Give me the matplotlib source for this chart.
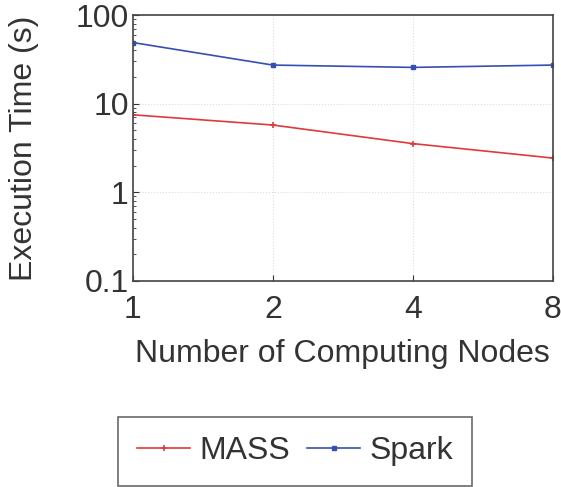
import matplotlib
matplotlib.use("Agg")
import matplotlib.pyplot as plt
from matplotlib.ticker import NullFormatter

plt.rcParams["font.family"] = ["Liberation Sans", "DejaVu Sans"]

nodes = [1, 2, 4, 8]
mass_time = [7.5, 5.75, 3.55, 2.44]
spark_time = [49, 27.3, 25.7, 27.3]
y_ticks = [0.1, 1, 10, 100]
y_tick_labels = ["0.1", "1", "10", "100"]

fs = 23

fig = plt.figure(figsize=(5.61, 4.87), dpi=100)
ax = fig.add_axes([0.237, 0.423, 0.748, 0.546])

ax.plot(nodes, mass_time, color="#e0393a", lw=1.2, marker="+", ms=4, mew=1.2, label="MASS")
ax.plot(nodes, spark_time, color="#3550b0", lw=1.2, marker="s", ms=3, label="Spark")

ax.set_xscale("log", base=2)
ax.set_yscale("log")
ax.set_xlim(1, 8)
ax.set_ylim(0.1, 100)
ax.set_xticks(nodes)
ax.set_xticklabels([str(n) for n in nodes])
ax.xaxis.set_minor_formatter(NullFormatter())
ax.set_yticks(y_ticks)
ax.set_yticklabels(y_tick_labels)

ax.tick_params(axis="both", which="both", direction="in", labelsize=fs, colors="#333333")
ax.tick_params(axis="both", which="major", length=4)
ax.tick_params(axis="x", which="major", pad=10)
ax.tick_params(axis="y", which="major", pad=3)
ax.tick_params(axis="y", which="minor", length=2)
ax.tick_params(axis="x", which="minor", length=0)
ax.grid(True, which="major", color="#dddddd", ls=":", lw=0.8)
for s in ax.spines.values():
    s.set_linewidth(1.2)
    s.set_color("#444444")

ax.set_xlabel("Number of Computing Nodes", fontsize=fs, color="#333333", labelpad=10)
ax.set_ylabel("Execution Time (s)", fontsize=fs, color="#333333", labelpad=26)

leg = fig.legend(loc="center", bbox_to_anchor=(0.526, 0.073), ncol=2, fontsize=fs,
                 frameon=True, fancybox=False, edgecolor="#444444", handlelength=1.66,
                 columnspacing=0.53, handletextpad=0.28, borderpad=0.6)
leg.get_frame().set_linewidth(1.2)
for t in leg.get_texts():
    t.set_color("#333333")

fig.savefig("out.png", dpi=100)
